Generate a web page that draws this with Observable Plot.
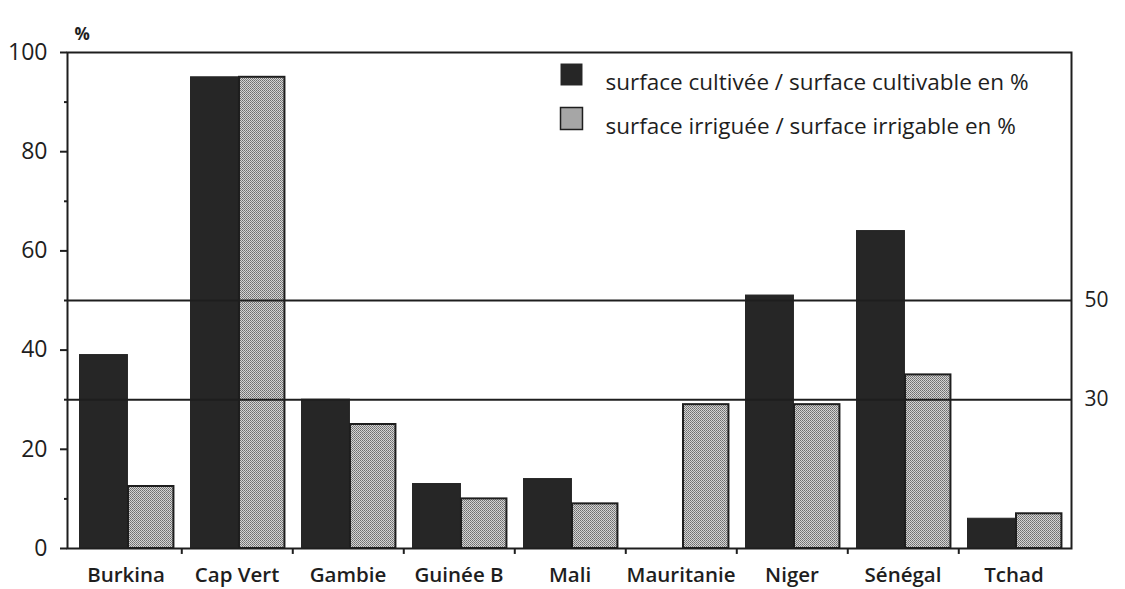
<!DOCTYPE html>
<html><head><meta charset="utf-8">
<script src="https://cdn.jsdelivr.net/npm/d3@7"></script>
<script src="https://cdn.jsdelivr.net/npm/@observablehq/plot@0.6"></script>
<style>body{margin:0;background:#fff;} #chart{width:1125px;height:589px;}</style>
</head><body><div id="chart"></div>
<script>
const countries = ["Burkina","Cap Vert","Gambie","Guinée B","Mali","Mauritanie","Niger","Sénégal","Tchad"];
const cultivated = [39, 95, 30, 13, 14, null, 51, 64, 6];
const irrigated = [12.5, 95, 25, 10, 9, 29, 29, 35, 7];
const seriesNames = ["surface cultivée / surface cultivable en %", "surface irriguée / surface irrigable en %"];
const yTicks = [0, 20, 40, 60, 80, 100];
const yMinorTicks = [10, 30, 50, 70, 90];
const refLines = [50, 30];
const yUnit = "%";

const W = 1125, H = 589, mL = 67, mR = 54, mT = 52, mB = 41;
const bw = (W - mL - mR) / countries.length;
const ink = "#1e1e1e";

const darkData = countries.map((c, i) => ({country: c, v: cultivated[i]})).filter(d => d.v != null);
const lightData = countries.map((c, i) => ({country: c, v: irrigated[i]})).filter(d => d.v != null);

const svg = Plot.plot({
  width: W, height: H,
  marginLeft: mL, marginRight: mR, marginTop: mT, marginBottom: mB,
  style: {fontFamily: "'Open Sans', Lato, sans-serif", color: ink, background: "#fff"},
  x: {domain: countries, padding: 0},
  y: {domain: [0, 100]},
  marks: [
    Plot.barY(darkData, {x: "country", y: "v", fill: "#262626", stroke: "#262626", strokeWidth: 1, insetLeft: 9.5, insetRight: bw - 58}),
    Plot.barY(lightData, {x: "country", y: "v", fill: "url(#dots)", stroke: ink, strokeWidth: 2, insetLeft: 58, insetRight: bw - 104}),
    Plot.ruleY(refLines, {stroke: ink, strokeWidth: 2}),
    Plot.text(refLines, {y: d => d, text: d => String(d), frameAnchor: "right", dx: 13, textAnchor: "start", fontSize: 21, fill: ink}),
    Plot.frame({stroke: ink, strokeWidth: 2}),
    Plot.axisY({ticks: yTicks, tickSize: 7, tickPadding: 13, fontSize: 23, label: null, strokeWidth: 2}),
    Plot.axisY({ticks: yMinorTicks, tickSize: 3, text: null, label: null, strokeWidth: 2}),
    Plot.axisX({tickSize: 0, tickPadding: 19, fontSize: 20.5, fontWeight: 600, label: null}),
    Plot.ruleX(countries.slice(0, -1), {x: d => d, dx: bw / 2, y1: 0, y2: -1.2, stroke: ink, strokeWidth: 2}),
    Plot.text([yUnit], {frameAnchor: "top-left", dx: 7, dy: -25, fontSize: 17, fontWeight: "bold", fill: ink}),
    Plot.dot([seriesNames[0]], {frameAnchor: "top-left", dx: 504, dy: 22, symbol: "square", r: 12.4, fill: "#262626"}),
    Plot.dot([seriesNames[1]], {frameAnchor: "top-left", dx: 504, dy: 66, symbol: "square", r: 12.4, fill: "url(#dots)", stroke: ink, strokeWidth: 1.5}),
    Plot.text([seriesNames[0]], {frameAnchor: "top-left", dx: 538, dy: 22, textAnchor: "start", fontSize: 22.5, fill: ink}),
    Plot.text([seriesNames[1]], {frameAnchor: "top-left", dx: 538, dy: 66, textAnchor: "start", fontSize: 22.5, fill: ink})
  ]
});
svg.insertAdjacentHTML("afterbegin",
  '<defs><pattern id="dots" width="2" height="2" patternUnits="userSpaceOnUse">' +
  '<rect width="2" height="2" fill="#d4d4d4"/><rect width="1" height="1" fill="#6e6e6e"/>' +
  '<rect x="1" y="1" width="1" height="1" fill="#828282"/></pattern></defs>');
document.getElementById("chart").appendChild(svg);
</script>
</body></html>
